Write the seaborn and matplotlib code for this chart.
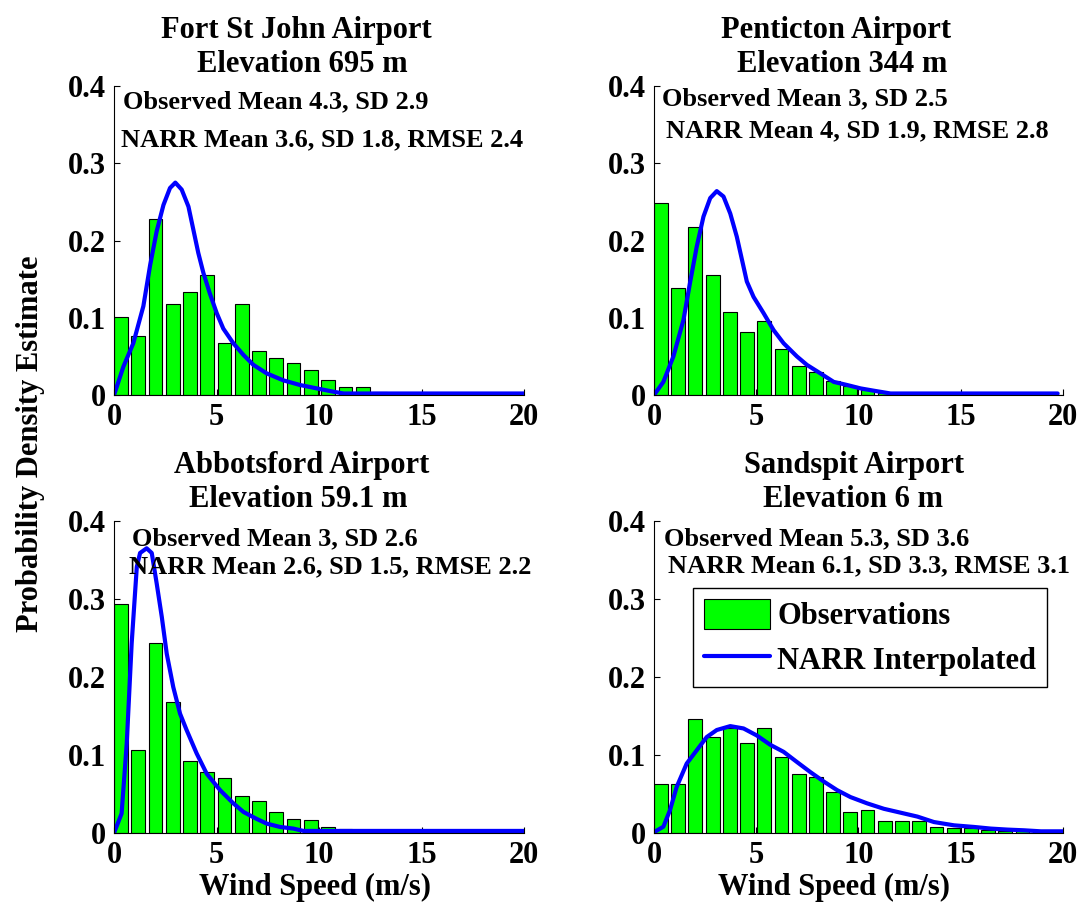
import seaborn as sns
import matplotlib.pyplot as plt

# histogram bin centres (m/s), shared by all stations
bin_centers = [0.34, 1.18, 2.02, 2.87, 3.71, 4.55, 5.39, 6.23, 7.08, 7.92, 8.76, 9.60,
               10.44, 11.29, 12.13, 12.97, 13.81, 14.65, 15.50, 16.34, 17.18, 18.02, 18.86, 19.71]

# observed pdf per bin
fsj_obs = [0.101, 0.076, 0.228, 0.118, 0.133, 0.156, 0.068, 0.118, 0.057, 0.048, 0.041, 0.033,
           0.019, 0.011, 0.011, 0.004, 0.003, 0.001, 0.001, 0.0, 0.0, 0.0, 0.0, 0.0]
pen_obs = [0.249, 0.138, 0.218, 0.156, 0.107, 0.081, 0.096, 0.060, 0.038, 0.030, 0.018, 0.012,
           0.007, 0.003, 0.001, 0.0, 0.0, 0.0, 0.0, 0.0, 0.0, 0.0, 0.0, 0.0]
abb_obs = [0.294, 0.106, 0.244, 0.168, 0.092, 0.078, 0.070, 0.047, 0.041, 0.027, 0.018, 0.016,
           0.008, 0.005, 0.001, 0.0, 0.0, 0.0, 0.0, 0.0, 0.0, 0.0, 0.0, 0.0]
san_obs = [0.063, 0.063, 0.146, 0.123, 0.134, 0.115, 0.134, 0.098, 0.075, 0.072, 0.052, 0.027,
           0.030, 0.015, 0.015, 0.015, 0.008, 0.007, 0.007, 0.004, 0.003, 0.002, 0.001, 0.003]

# NARR interpolated density curves
fsj_narr_x = [0, 0.46, 0.94, 1.43, 1.76, 2.08, 2.41, 2.73, 2.99, 3.3, 3.63, 3.87, 4.11, 4.36,
              4.68, 5.01, 5.33, 5.82, 6.31, 6.8, 7.45, 8.26, 9.07, 9.89, 10.7, 11.2, 20]
fsj_narr_y = [0, 0.037, 0.067, 0.115, 0.168, 0.212, 0.246, 0.268, 0.275, 0.266, 0.244, 0.214,
              0.184, 0.158, 0.131, 0.106, 0.086, 0.067, 0.052, 0.039, 0.028, 0.019, 0.013,
              0.0086, 0.0043, 0.002, 0.002]
pen_narr_x = [0, 0.46, 0.95, 1.44, 1.76, 2.09, 2.42, 2.75, 3.07, 3.4, 3.73, 4.05, 4.38, 4.54,
              4.87, 5.36, 5.85, 6.34, 6.99, 7.48, 8.14, 8.79, 9.44, 10.1, 10.75, 11.57, 19.74]
pen_narr_y = [0, 0.017, 0.050, 0.097, 0.145, 0.192, 0.231, 0.255, 0.264, 0.257, 0.235, 0.205,
              0.166, 0.147, 0.127, 0.106, 0.084, 0.067, 0.050, 0.039, 0.028, 0.017, 0.013,
              0.0086, 0.0056, 0.002, 0.002]
abb_narr_x = [0, 0.37, 0.62, 0.86, 1.11, 1.27, 1.59, 1.84, 2.08, 2.33, 2.57, 2.89, 3.22, 3.54,
              4.03, 4.52, 5.17, 5.82, 6.31, 6.96, 7.45, 8.1, 8.75, 9.24, 20]
abb_narr_y = [0, 0.025, 0.115, 0.243, 0.341, 0.359, 0.365, 0.359, 0.32, 0.277, 0.230, 0.187,
              0.153, 0.132, 0.102, 0.076, 0.055, 0.038, 0.027, 0.018, 0.012, 0.0077, 0.0056,
              0.0026, 0.0026]
san_narr_x = [0, 0.46, 0.78, 1.11, 1.6, 2.09, 2.58, 3.07, 3.73, 4.38, 5.03, 5.69, 6.34, 6.99,
              7.65, 8.3, 8.95, 9.61, 10.42, 11.24, 12.06, 12.88, 13.69, 14.67, 15.65, 16.47,
              17.29, 18.1, 18.92, 20]
san_narr_y = [0.001, 0.008, 0.029, 0.059, 0.089, 0.106, 0.123, 0.132, 0.137, 0.134, 0.125,
              0.113, 0.104, 0.091, 0.078, 0.066, 0.055, 0.046, 0.038, 0.031, 0.026, 0.021,
              0.014, 0.0098, 0.0077, 0.0056, 0.0043, 0.0034, 0.0021, 0.0021]

stations = ["Fort St John Airport", "Penticton Airport", "Abbotsford Airport", "Sandspit Airport"]
elevations = ["Elevation 695 m", "Elevation 344 m", "Elevation 59.1 m", "Elevation 6 m"]
obs_stats = ["Observed Mean 4.3, SD 2.9", "Observed Mean 3, SD 2.5",
             "Observed Mean 3, SD 2.6", "Observed Mean 5.3, SD 3.6"]
narr_stats = ["NARR Mean 3.6, SD 1.8, RMSE 2.4", "NARR Mean 4, SD 1.9, RMSE 2.8",
              "NARR Mean 2.6, SD 1.5, RMSE 2.2", "NARR Mean 6.1, SD 3.3, RMSE 3.1"]

obs_all = [fsj_obs, pen_obs, abb_obs, san_obs]
narr_all = [(fsj_narr_x, fsj_narr_y), (pen_narr_x, pen_narr_y),
            (abb_narr_x, abb_narr_y), (san_narr_x, san_narr_y)]

sns.set_style("white")
plt.rcParams["font.family"] = ["Liberation Serif", "DejaVu Serif"]
plt.rcParams["font.weight"] = "bold"
plt.rcParams["text.color"] = "black"
plt.rcParams["axes.edgecolor"] = "black"
plt.rcParams["xtick.color"] = "black"
plt.rcParams["ytick.color"] = "black"

fig = plt.figure(figsize=(10.84, 9.05), dpi=100)
boxes = [[0.1052, 0.5635, 0.3782, 0.3414], [0.6033, 0.5635, 0.3773, 0.3414],
         [0.1052, 0.0796, 0.3782, 0.3447], [0.6033, 0.0796, 0.3773, 0.3447]]
title_x = [(0.444, 0.46), (0.445, 0.46), (0.457, 0.449), (0.488, 0.486)]
text_pos = [((0.022, 0.927), (0.017, 0.806)), ((0.019, 0.939), (0.029, 0.835)),
            ((0.043, 0.923), (0.037, 0.833)), ((0.024, 0.923), (0.034, 0.837))]
xlab_x = [None, None, 0.49, 0.44]

for i in range(4):
    ax = fig.add_axes(boxes[i])
    last = i == 3
    sns.barplot(x=bin_centers, y=obs_all[i], native_scale=True, orient="x", width=0.8,
                color=(0, 1, 0), saturation=1, edgecolor="black", linewidth=0.8,
                errorbar=None, ax=ax, label="Observations" if last else None)
    sns.lineplot(x=narr_all[i][0], y=narr_all[i][1], color=(0, 0, 1), linewidth=3,
                 ax=ax, label="NARR Interpolated" if last else None, legend=False)
    ax.set_xlim(0, 20)
    ax.set_ylim(0, 0.4)
    ax.set_xticks([0, 5, 10, 15, 20])
    ax.set_xticklabels(["0", "5", "10", "15", "20"])
    ax.set_yticks([0, 0.1, 0.2, 0.3, 0.4])
    ax.set_yticklabels(["0", "0.1", "0.2", "0.3", "0.4"])
    ax.tick_params(direction="in", length=4, width=0.8, labelsize=22, pad=6,
                   bottom=True, left=True, colors="black")
    for lab in ax.get_xticklabels() + ax.get_yticklabels():
        lab.set_fontweight("bold")
    ax.spines["top"].set_visible(False)
    ax.spines["right"].set_visible(False)
    ax.spines["left"].set_linewidth(0.8)
    ax.spines["bottom"].set_linewidth(0.8)
    ax.set_xlabel("")
    ax.set_ylabel("")

    ax.text(title_x[i][0], 1.155, stations[i], transform=ax.transAxes, ha="center",
            va="baseline", fontsize=22, fontweight="bold")
    ax.text(title_x[i][1], 1.045, elevations[i], transform=ax.transAxes, ha="center",
            va="baseline", fontsize=22, fontweight="bold")
    ax.text(text_pos[i][0][0], text_pos[i][0][1], obs_stats[i], transform=ax.transAxes,
            ha="left", va="baseline", fontsize=19, fontweight="bold")
    ax.text(text_pos[i][1][0], text_pos[i][1][1], narr_stats[i], transform=ax.transAxes,
            ha="left", va="baseline", fontsize=19, fontweight="bold")

    if xlab_x[i] is not None:
        ax.text(xlab_x[i], -0.199, "Wind Speed (m/s)", transform=ax.transAxes, ha="center",
                va="baseline", fontsize=22, fontweight="bold")

    if last:
        handles, labels = ax.get_legend_handles_labels()
        order = [labels.index("Observations"), labels.index("NARR Interpolated")]
        leg = ax.legend([handles[k] for k in order], [labels[k] for k in order],
                        loc="upper left", bbox_to_anchor=(0.095, 0.785), borderaxespad=0,
                        fancybox=False, framealpha=1, edgecolor="black", fontsize=22,
                        handlelength=2.16, handleheight=1.15, handletextpad=0.25,
                        borderpad=0.35, labelspacing=0.4)
        leg.get_frame().set_linewidth(1.0)
        for t in leg.get_texts():
            t.set_fontweight("bold")

fig.text(0.028, 0.51, "Probability Density Estimate", rotation=90, ha="center", va="center",
         fontsize=22, fontweight="bold")

plt.savefig("out.png", dpi=100)
plt.close()
